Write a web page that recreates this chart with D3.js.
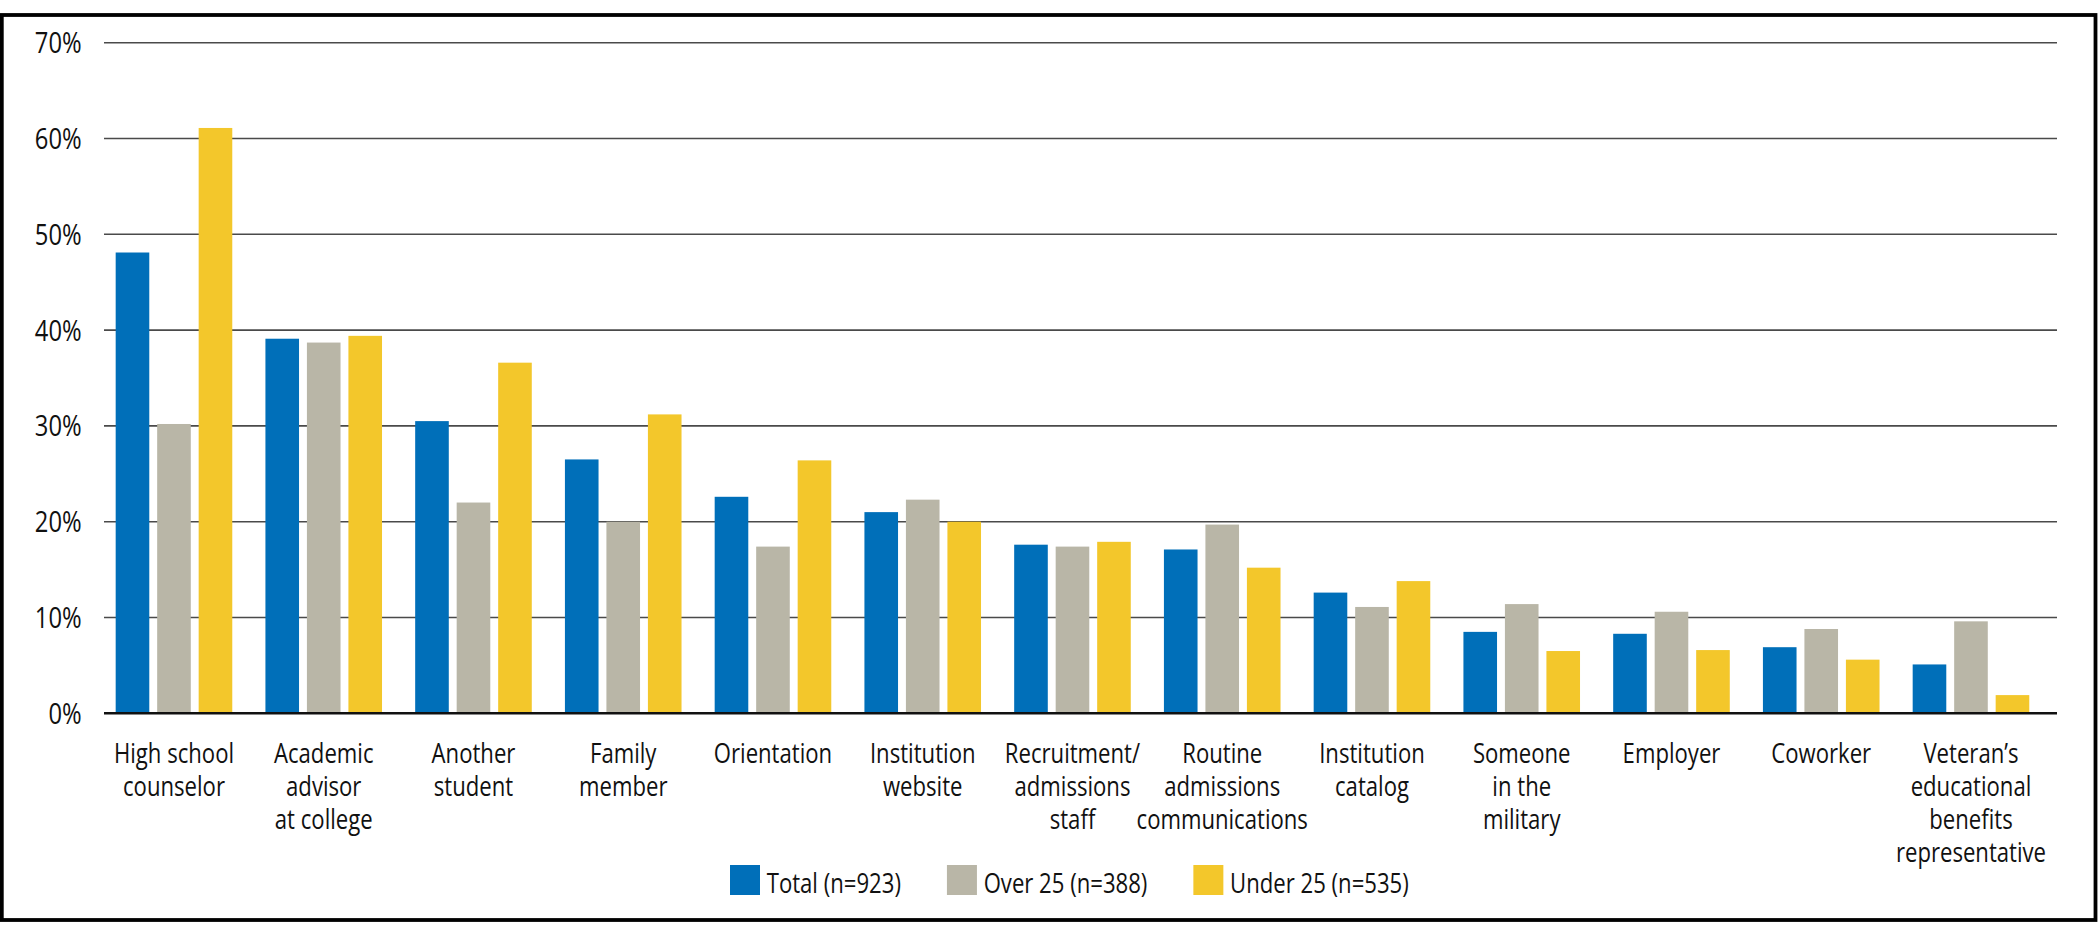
<!DOCTYPE html>
<html>
<head>
<meta charset="utf-8">
<script src="https://cdn.jsdelivr.net/npm/d3@7"></script>
<style>
  body { margin: 0; background: #fff; }
  text { font-family: "Open Sans", sans-serif; fill: #111; }
</style>
</head>
<body>
<div id="chart"></div>
<script>
var width = 2100
var height = 926

// categories, split into label lines
var labelLines = [
    ["High school", "counselor"],
    ["Academic", "advisor", "at college"],
    ["Another", "student"],
    ["Family", "member"],
    ["Orientation"],
    ["Institution", "website"],
    ["Recruitment/", "admissions", "staff"],
    ["Routine", "admissions", "communications"],
    ["Institution", "catalog"],
    ["Someone", "in the", "military"],
    ["Employer"],
    ["Coworker"],
    ["Veteran\u2019s", "educational", "benefits", "representative"]
]
var categories = labelLines.map(function(l) { return l.join(" ") })

var seriesNames = ["Total (n=923)", "Over 25 (n=388)", "Under 25 (n=535)"]
var total   = [48.1, 39.1, 30.5, 26.5, 22.6, 21.0, 17.6, 17.1, 12.6, 8.5, 8.3, 6.9, 5.1]
var over25  = [30.2, 38.7, 22.0, 20.0, 17.4, 22.3, 17.4, 19.7, 11.1, 11.4, 10.6, 8.8, 9.6]
var under25 = [61.1, 39.4, 36.6, 31.2, 26.4, 20.0, 17.9, 15.2, 13.8, 6.5, 6.6, 5.6, 1.9]
var seriesValues = [total, over25, under25]
var yTicks = [0, 10, 20, 30, 40, 50, 60, 70]
var colors = ["#006fb9", "#b9b6a7", "#f3c72b"]

// text in the original is a narrow humanist face
var sx = 0.82

var svg = d3.select("#chart").append("svg")
    .attr("width", width)
    .attr("height", height)

// frame
svg.append("rect")
    .attr("x", 1.8).attr("y", 15)
    .attr("width", 2093.7).attr("height", 905)
    .attr("fill", "none")
    .attr("stroke", "#000")
    .attr("stroke-width", 3.8)

var gridX0 = 104, gridX1 = 2057

var y = d3.scaleLinear().domain([0, 70]).range([713.3, 42.7])

var x = d3.scaleBand()
    .domain(categories)
    .range([99.1, 99.1 + 13 * 149.75])

var xInner = d3.scaleBand()
    .domain([0, 1, 2])
    .range([0, 116.6])
    .paddingInner(0.19)

// gridlines
svg.append("g").selectAll("line")
    .data(yTicks.filter(function(d) { return d > 0 }))
    .enter().append("line")
    .attr("x1", gridX0).attr("x2", gridX1)
    .attr("y1", function(d) { return y(d) })
    .attr("y2", function(d) { return y(d) })
    .attr("stroke", "#4a4a4a")
    .attr("stroke-width", 1.6)

// y labels
svg.append("g").selectAll("text")
    .data(yTicks)
    .enter().append("text")
    .attr("transform", function(d) { return "translate(81.7," + y(d) + ") scale(" + sx + ",1)" })
    .attr("dy", "0.36em")
    .attr("text-anchor", "end")
    .attr("font-size", 29)
    .text(function(d) { return d + "%" })

// bars
var groups = svg.append("g").selectAll("g")
    .data(categories)
    .enter().append("g")
    .attr("transform", function(d) { return "translate(" + (x(d) + (x.bandwidth() - 116.6) / 2) + ",0)" })

groups.selectAll("rect")
    .data(function(d, i) { return seriesValues.map(function(s, k) { return {k: k, v: s[i]} }) })
    .enter().append("rect")
    .attr("x", function(d) { return xInner(d.k) })
    .attr("width", xInner.bandwidth())
    .attr("y", function(d) { return y(d.v) })
    .attr("height", function(d) { return y(0) - y(d.v) })
    .attr("fill", function(d) { return colors[d.k] })

// baseline
svg.append("line")
    .attr("x1", gridX0).attr("x2", gridX1)
    .attr("y1", y(0)).attr("y2", y(0))
    .attr("stroke", "#111")
    .attr("stroke-width", 2.6)

// x labels
var xl = svg.append("g").selectAll("g")
    .data(labelLines)
    .enter().append("g")
    .attr("transform", function(d, i) { return "translate(" + (x(categories[i]) + x.bandwidth() / 2) + ",763.3)" })

xl.selectAll("text")
    .data(function(d) { return d })
    .enter().append("text")
    .attr("transform", function(d, j) { return "translate(0," + (j * 33) + ") scale(" + sx + ",1)" })
    .attr("text-anchor", "middle")
    .attr("font-size", 27)
    .text(function(d) { return d })

// legend
var lx = 730
seriesNames.forEach(function(name, k) {
    svg.append("rect")
        .attr("x", lx).attr("y", 865)
        .attr("width", 30).attr("height", 30)
        .attr("fill", colors[k])
    var t = svg.append("text")
        .attr("transform", "translate(" + (lx + 36.7) + ",892.7) scale(" + sx + ",1)")
        .attr("font-size", 27)
        .text(name)
    lx = lx + 36.7 + t.node().getComputedTextLength() * sx + 46
})
</script>
</body>
</html>
